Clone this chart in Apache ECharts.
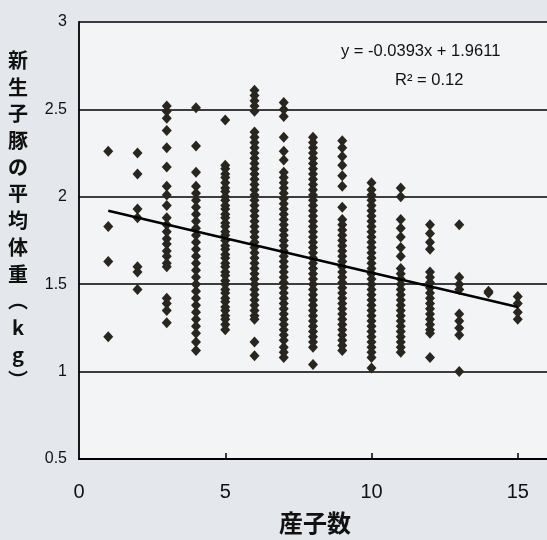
<!DOCTYPE html>
<html>
<head>
<meta charset="utf-8">
<script src="https://cdn.jsdelivr.net/npm/echarts@6/dist/echarts.min.js"></script>
<style>
  html, body { margin: 0; padding: 0; background: #e4e7ec; }
  #myCharts { width: 547px; height: 540px; }
</style>
</head>
<body>
<div id="myCharts"></div>
<script>
// 産子数ごとの新生子豚の平均体重 (kg)
const w1 = [2.26, 1.83, 1.63, 1.20]
const w2 = [2.25, 2.13, 1.93, 1.88, 1.60, 1.57, 1.47]
const w3 = [2.52, 2.49, 2.45, 2.38, 2.28, 2.17, 2.06, 2.01, 1.95, 1.88, 1.84, 1.80, 1.76, 1.73, 1.69, 1.66, 1.62, 1.60, 1.42, 1.39, 1.35, 1.28]
const w4 = [2.51, 2.29, 2.14, 2.06, 2.02, 1.98, 1.94, 1.90, 1.86, 1.82, 1.78, 1.74, 1.70, 1.66, 1.62, 1.58, 1.54, 1.50, 1.46, 1.42, 1.38, 1.34, 1.30, 1.26, 1.22, 1.17, 1.12]
const w5 = [2.44, 2.18, 2.16, 2.13, 2.11, 2.08, 2.05, 2.03, 2.00, 1.98, 1.95, 1.93, 1.90, 1.88, 1.85, 1.83, 1.80, 1.78, 1.75, 1.72, 1.70, 1.67, 1.65, 1.62, 1.60, 1.57, 1.55, 1.52, 1.50, 1.47, 1.45, 1.42, 1.40, 1.37, 1.35, 1.32, 1.30, 1.27, 1.24]
const w6 = [2.61, 2.58, 2.55, 2.52, 2.49, 2.37, 2.34, 2.31, 2.28, 2.25, 2.22, 2.19, 2.16, 2.13, 2.10, 2.07, 2.04, 2.01, 1.98, 1.95, 1.92, 1.89, 1.86, 1.83, 1.80, 1.77, 1.74, 1.71, 1.68, 1.65, 1.62, 1.59, 1.56, 1.53, 1.50, 1.47, 1.44, 1.41, 1.38, 1.35, 1.32, 1.30, 1.17, 1.09]
const w7 = [2.54, 2.50, 2.46, 2.34, 2.26, 2.21, 2.14, 2.11, 2.08, 2.05, 2.02, 1.99, 1.96, 1.93, 1.90, 1.87, 1.84, 1.81, 1.78, 1.75, 1.72, 1.69, 1.66, 1.63, 1.60, 1.57, 1.54, 1.51, 1.48, 1.45, 1.42, 1.39, 1.36, 1.33, 1.30, 1.27, 1.24, 1.21, 1.18, 1.14, 1.11, 1.08]
const w8 = [2.34, 2.31, 2.28, 2.25, 2.22, 2.19, 2.16, 2.13, 2.10, 2.07, 2.04, 2.01, 1.98, 1.95, 1.92, 1.89, 1.86, 1.83, 1.80, 1.77, 1.74, 1.71, 1.68, 1.65, 1.62, 1.59, 1.56, 1.53, 1.50, 1.47, 1.44, 1.41, 1.38, 1.35, 1.32, 1.29, 1.26, 1.23, 1.20, 1.17, 1.14, 1.04]
const w9 = [2.32, 2.28, 2.23, 2.18, 2.12, 2.06, 1.94, 1.87, 1.84, 1.81, 1.78, 1.75, 1.72, 1.69, 1.66, 1.63, 1.60, 1.57, 1.54, 1.51, 1.48, 1.45, 1.42, 1.39, 1.36, 1.33, 1.30, 1.27, 1.24, 1.21, 1.18, 1.15, 1.12]
const w10 = [2.08, 2.04, 2.01, 1.98, 1.95, 1.92, 1.89, 1.86, 1.83, 1.80, 1.77, 1.74, 1.71, 1.68, 1.65, 1.62, 1.59, 1.56, 1.53, 1.50, 1.47, 1.44, 1.41, 1.38, 1.35, 1.32, 1.29, 1.26, 1.23, 1.20, 1.17, 1.14, 1.11, 1.08, 1.02]
const w11 = [2.05, 2.00, 1.87, 1.82, 1.77, 1.71, 1.66, 1.59, 1.56, 1.53, 1.50, 1.47, 1.44, 1.41, 1.38, 1.35, 1.32, 1.29, 1.26, 1.23, 1.20, 1.17, 1.14, 1.11]
const w12 = [1.84, 1.79, 1.74, 1.70, 1.57, 1.54, 1.51, 1.48, 1.45, 1.42, 1.39, 1.36, 1.33, 1.30, 1.27, 1.24, 1.22, 1.08]
const w13 = [1.84, 1.54, 1.50, 1.47, 1.33, 1.29, 1.25, 1.21, 1.00]
const w14 = [1.46, 1.45]
const w15 = [1.43, 1.39, 1.34, 1.30]

const litterSizes = [1, 2, 3, 4, 5, 6, 7, 8, 9, 10, 11, 12, 13, 14, 15]
const weightsBySize = [w1, w2, w3, w4, w5, w6, w7, w8, w9, w10, w11, w12, w13, w14, w15]

// 近似直線 y = -0.0393x + 1.9611 の両端
const trendX = [1, 15]
const trendY = [1.92, 1.37]

const xTicks = [0, 5, 10, 15]
const yAxisName = ['新', '生', '子', '豚', 'の', '平', '均', '体', '重', '︵', 'k', 'g', '︶']

let points = []
litterSizes.forEach((n, i) => {
    weightsBySize[i].forEach(v => points.push([n, v]))
})

const chart = echarts.init(document.getElementById('myCharts'))
chart.setOption({
    backgroundColor: '#e4e7ec',
    animation: false,
    grid: {
        left: 79,
        top: 22,
        right: -5,
        bottom: 81,
        show: true,
        backgroundColor: '#f3f4f6',
        borderWidth: 0
    },
    xAxis: {
        type: 'value',
        min: 0,
        max: 16,
        interval: 5,
        axisLine: { lineStyle: { color: '#000', width: 1.8 } },
        axisTick: { inside: true, length: 6, customValues: [5, 10, 15], lineStyle: { color: '#000', width: 1.5 } },
        axisLabel: {
            customValues: xTicks,
            margin: 23,
            color: '#111',
            fontSize: 20,
            fontFamily: 'Liberation Sans'
        },
        splitLine: { show: false }
    },
    yAxis: {
        type: 'value',
        min: 0.5,
        max: 3,
        interval: 0.5,
        axisLine: { show: true, lineStyle: { color: '#000', width: 1.8 } },
        axisTick: { show: false },
        axisLabel: {
            margin: 12,
            color: '#111',
            fontSize: 16,
            fontFamily: 'Liberation Sans'
        },
        splitLine: { show: true, lineStyle: { color: '#000', width: 1.6 } }
    },
    series: [
        {
            type: 'scatter',
            symbol: 'diamond',
            symbolSize: [10, 11],
            itemStyle: { color: '#29261f', opacity: 1 },
            data: points
        },
        {
            type: 'line',
            symbol: 'none',
            lineStyle: { color: '#000', width: 2.5 },
            data: trendX.map((x, i) => [x, trendY[i]]),
            z: 3
        }
    ],
    graphic: [
        {
            type: 'text',
            left: 341,
            top: 43,
            style: {
                text: 'y = -0.0393x + 1.9611',
                font: '16.5px "Liberation Sans"',
                fill: '#111'
            }
        },
        {
            type: 'text',
            left: 395,
            top: 72,
            style: {
                text: 'R² = 0.12',
                font: '16.5px "Liberation Sans"',
                fill: '#111'
            }
        },
        {
            type: 'text',
            x: 18,
            y: 47,
            style: {
                text: yAxisName.join('\n'),
                font: 'bold 20px "Noto Sans CJK JP"',
                lineHeight: 26.7,
                align: 'center',
                fill: '#111'
            }
        },
        {
            type: 'text',
            x: 315,
            y: 511,
            style: {
                text: '産子数',
                font: 'bold 24px "Noto Sans CJK JP"',
                align: 'center',
                fill: '#111'
            }
        }
    ]
})
</script>
</body>
</html>
